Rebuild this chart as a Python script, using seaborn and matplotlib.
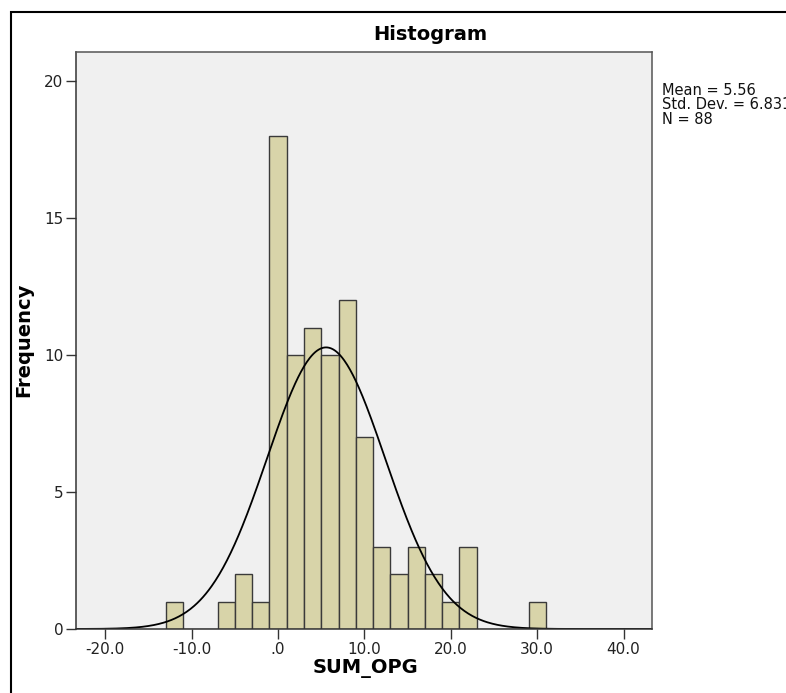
import numpy as np
import pandas as pd
import matplotlib
matplotlib.use("Agg")
import matplotlib.pyplot as plt
import matplotlib.ticker as mticker
import seaborn as sns

# ---- data ----
bin_start = -13.0
bin_width = 2.0
counts = [1, 0, 0, 1, 2, 1, 18, 10, 11, 10, 12, 7, 3, 2, 3, 2, 1, 3, 0, 0, 0, 1]
mean_val = 5.56
std_val = 6.831
n_val = 88
x_ticks = [-20, -10, 0, 10, 20, 30, 40]
y_ticks = [0, 5, 10, 15, 20]
title = "Histogram"
x_label = "SUM_OPG"
y_label = "Frequency"

sns.set_theme(style="white")
plt.rcParams["font.family"] = ["DejaVu Sans"]

edges = [float(bin_start + bin_width * i) for i in range(len(counts) + 1)]
centers = [(edges[i] + edges[i + 1]) / 2 for i in range(len(counts))]
df = pd.DataFrame({"x": centers, "w": counts})

fig = plt.figure(figsize=(7.86, 6.93), dpi=100)
ax = fig.add_axes([76 / 786, 1 - 629 / 693, (652 - 76) / 786, (629 - 52) / 693])
ax.set_facecolor("#f0f0f0")

sns.histplot(data=df, x="x", weights="w", binwidth=bin_width, binrange=(edges[0], edges[-1]),
             ax=ax, color="#d8d4a9", alpha=1.0, edgecolor="#3a3a3a", linewidth=1.0)

xlim = (-23.4, 43.3)
xs = np.linspace(xlim[0], xlim[1], 600)
ys = n_val * bin_width * np.exp(-0.5 * ((xs - mean_val) / std_val) ** 2) / (std_val * np.sqrt(2 * np.pi))
sns.lineplot(x=xs, y=ys, ax=ax, color="black", linewidth=1.3)

ax.set_xlim(*xlim)
ax.set_ylim(0, 21.06)
ax.set_xticks(x_ticks)
ax.set_yticks(y_ticks)

def xfmt(v, pos):
    s = f"{v:.1f}"
    if s in ("0.0", "-0.0"):
        return ".0"
    return s

ax.xaxis.set_major_formatter(mticker.FuncFormatter(xfmt))
ax.yaxis.set_major_formatter(mticker.FuncFormatter(lambda v, p: f"{int(v)}"))
ax.tick_params(axis="both", which="major", direction="out", length=7, width=1.0,
               color="#333333", labelsize=11, labelcolor="#222222", pad=2,
               bottom=True, left=True, top=False, right=False)

for side, sp in ax.spines.items():
    sp.set_visible(True)
    sp.set_linewidth(1.1)
    sp.set_color("#555555" if side in ("top", "right") else "#333333")

ax.set_xlabel("")
ax.set_ylabel("")

fig.text(430 / 786, 1 - 35 / 693, title, ha="center", va="center",
         fontsize=14, fontweight="bold", color="black")
fig.text(365 / 786, 1 - 668 / 693, x_label, ha="center", va="center",
         fontsize=14, fontweight="bold", color="black")
fig.text(24 / 786, 1 - 340 / 693, y_label, ha="center", va="center",
         rotation=90, fontsize=14, fontweight="bold", color="black")

fig.text(662 / 786, 1 - 83 / 693,
         f"Mean = {mean_val}\nStd. Dev. = {std_val}\nN = {n_val}",
         ha="left", va="top", fontsize=10.5, linespacing=0.95, color="#111111")

# outer frame (clipped at right and bottom like the reference)
frame = plt.Rectangle((11 / 786, -0.05), 1.2, 1 - 12 / 693 + 0.05,
                      transform=fig.transFigure, fill=False,
                      edgecolor="black", linewidth=1.5, clip_on=False)
fig.add_artist(frame)

fig.savefig("out.png", dpi=100)
